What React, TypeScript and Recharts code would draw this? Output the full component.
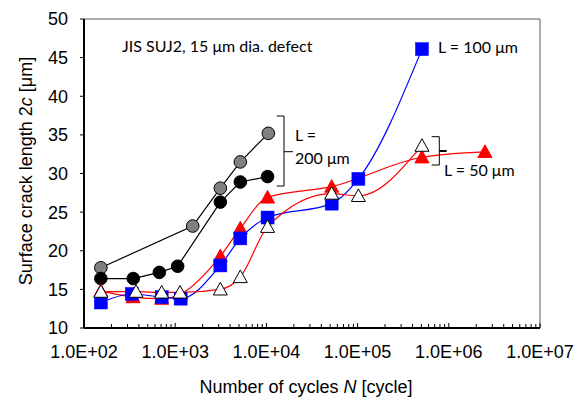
import React from 'react'
import { LineChart, Line, XAxis, YAxis, ReferenceLine } from 'recharts'

// x tick values (log axis) and their labels
const xMajorTicks = [1e2, 1e3, 1e4, 1e5, 1e6, 1e7]
const xTickLabels = ['1.0E+02', '1.0E+03', '1.0E+04', '1.0E+05', '1.0E+06', '1.0E+07']
const minorSteps = [2, 3, 4, 5, 6, 7, 8, 9]
const yTicks = [10, 15, 20, 25, 30, 35, 40, 45, 50]

// L = 200 um, specimen A (gray circles)
const grayCycles = [153, 1556, 3126, 5176, 10500]
const grayLength = [17.8, 23.2, 28.1, 31.5, 35.2]

// L = 200 um, specimen B (black circles)
const blackCycles = [153, 347, 670, 1064, 3126, 5176, 10300]
const blackLength = [16.4, 16.4, 17.2, 18.0, 26.3, 28.9, 29.6]

// L = 100 um (blue squares)
const blueCycles = [153, 334, 711, 1148, 3126, 5176, 10300, 52000, 102000, 508000]
const blueLength = [13.3, 14.4, 14.0, 13.8, 18.1, 21.6, 24.3, 26.1, 29.3, 46.1]

// L = 50 um, specimen A (red triangles)
const redCycles = [153, 345, 711, 1148, 3126, 5176, 10300, 52000, 508000, 2490000]
const redLength = [14.8, 14.0, 13.8, 14.4, 19.3, 22.9, 26.9, 28.3, 32.1, 32.8]

// L = 50 um, specimen B (open triangles)
const openCycles = [153, 372, 711, 1130, 3126, 5176, 10300, 52000, 102000, 508000]
const openLength = [14.7, 14.7, 14.6, 14.6, 15.0, 16.6, 23.1, 27.4, 27.1, 33.6]

const toRows = (xs: number[], ys: number[]) => xs.map((n, i) => ({ n, v: ys[i] }))

const xAllTicks = xMajorTicks.concat(
  xMajorTicks.slice(0, -1).flatMap((d) => minorSteps.map((m) => d * m))
)

const tickFont = { fontFamily: '"Liberation Sans", Arial, sans-serif', fontSize: 18, fill: '#000' }
const noteFont = { fontFamily: 'Lato, "Open Sans", sans-serif', fontSize: 16, fill: '#000' }

function XTick(props: any) {
  const { x, y, payload } = props
  const idx = xMajorTicks.findIndex((t) => Math.abs(t - payload.value) / t < 1e-6)
  if (idx < 0) {
    return <line x1={x} x2={x} y1={y} y2={y - 4} stroke="#000" strokeWidth={1} />
  }
  return (
    <g>
      <line x1={x} x2={x} y1={y} y2={y - 5} stroke="#000" strokeWidth={1} />
      <text x={x} y={y + 30} textAnchor="middle" {...tickFont}>
        {xTickLabels[idx]}
      </text>
    </g>
  )
}

const makeDot = (kind: string, fill: string, stroke: string) => (p: any) => {
  const { cx, cy, index } = p
  if (cx == null || cy == null) return <g key={index} />
  if (kind === 'circle') {
    return <circle key={index} cx={cx} cy={cy} r={6.3} fill={fill} stroke={stroke} strokeWidth={1} />
  }
  if (kind === 'square') {
    return <rect key={index} x={cx - 6.5} y={cy - 6.5} width={13} height={13} fill={fill} stroke={stroke} strokeWidth={0.5} />
  }
  const s = 7
  return (
    <path
      key={index}
      d={`M${cx},${cy - s} L${cx + s},${cy + s * 0.8} L${cx - s},${cy + s * 0.8} Z`}
      fill={fill}
      stroke={stroke}
      strokeWidth={1}
    />
  )
}

export default function App() {
  return (
    <div style={{ position: 'absolute', left: 0, top: 0, width: 586, height: 400, background: '#fff' }}>
      <LineChart width={586} height={400} margin={{ top: 19, right: 46, bottom: 0, left: 0 }}>
        <XAxis
          dataKey="n"
          type="number"
          scale="log"
          domain={[100, 1e7]}
          ticks={xAllTicks}
          interval={0}
          allowDataOverflow
          height={72}
          tickSize={0}
          tickMargin={0}
          tickLine={false}
          tick={<XTick />}
          axisLine={{ stroke: '#000', strokeWidth: 2 }}
        />
        <YAxis
          type="number"
          domain={[10, 50]}
          ticks={yTicks}
          interval={0}
          width={84}
          tickSize={4}
          tickMargin={12}
          tickLine={{ stroke: '#000' }}
          axisLine={{ stroke: '#000', strokeWidth: 2 }}
          tick={tickFont}
        />
        <ReferenceLine y={50} stroke="#595959" strokeWidth={1} />
        <ReferenceLine x={1e7} stroke="#595959" strokeWidth={1} />
        <Line
          data={toRows(grayCycles, grayLength)}
          dataKey="v"
          type="linear"
          stroke="#000"
          strokeWidth={1.2}
          dot={makeDot('circle', '#808080', '#000')}
          isAnimationActive={false}
        />
        <Line
          data={toRows(blackCycles, blackLength)}
          dataKey="v"
          type="linear"
          stroke="#000"
          strokeWidth={1.2}
          dot={makeDot('circle', '#000', '#000')}
          isAnimationActive={false}
        />
        <Line
          data={toRows(redCycles, redLength)}
          dataKey="v"
          type="monotone"
          stroke="#ff0000"
          strokeWidth={1.2}
          dot={makeDot('triangle', '#ff0000', '#ff0000')}
          isAnimationActive={false}
        />
        <Line
          data={toRows(blueCycles, blueLength)}
          dataKey="v"
          type="monotone"
          stroke="#0000ff"
          strokeWidth={1.2}
          dot={makeDot('square', '#0000ff', '#0000ff')}
          isAnimationActive={false}
        />
        <Line
          data={toRows(openCycles, openLength)}
          dataKey="v"
          type="monotone"
          stroke="#ff0000"
          strokeWidth={1.2}
          dot={makeDot('triangle', '#ffffff', '#000')}
          isAnimationActive={false}
        />
      </LineChart>
      <svg
        width={586}
        height={400}
        style={{ position: 'absolute', left: 0, top: 0, pointerEvents: 'none' }}
      >
        <text x={122} y={51.5} {...noteFont}>JIS SUJ2, 15 μm dia. defect</text>
        <text x={438} y={53.3} {...noteFont}>L = 100 μm</text>
        <text x={444} y={175.5} {...noteFont}>L = 50 μm</text>
        <text x={295} y={140.7} {...noteFont}>L =</text>
        <text x={295} y={164} {...noteFont}>200 μm</text>
        <path d="M276.7,116 H284 V186 H276.7 M284,151.7 H293" fill="none" stroke="#000" strokeWidth={1} />
        <path d="M431.7,136.7 H439.3 V165 H431.7" fill="none" stroke="#000" strokeWidth={1} />
        <path d="M439.3,151 H446.7" fill="none" stroke="#000" strokeWidth={2} />
        <text transform="translate(31.5,171) rotate(-90)" textAnchor="middle" {...tickFont}>
          Surface crack length 2<tspan fontStyle="italic">c</tspan> [μm]
        </text>
        <text x={306} y={393} textAnchor="middle" {...tickFont}>
          Number of cycles <tspan fontStyle="italic">N</tspan> [cycle]
        </text>
      </svg>
    </div>
  )
}
